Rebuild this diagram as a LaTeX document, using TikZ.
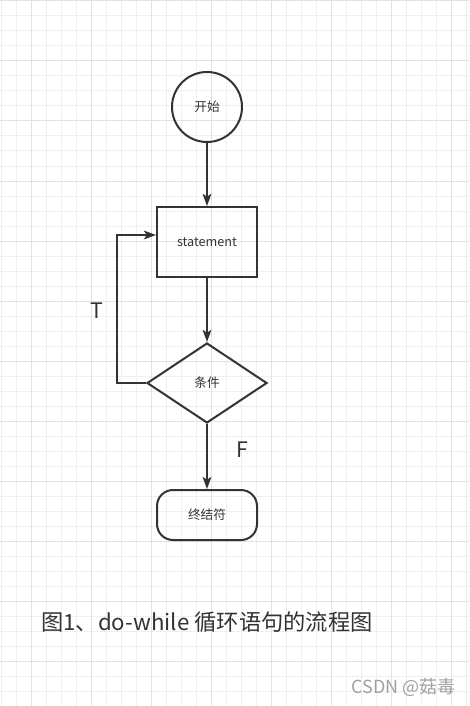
\documentclass[tikz,border=0pt]{standalone}
\usepackage{fontspec}
\setmainfont{Noto Sans CJK SC}
\usetikzlibrary{arrows.meta,shapes.geometric}
\definecolor{ln}{HTML}{333333}
\definecolor{gmin}{HTML}{EFEFEF}
\definecolor{gmaj}{HTML}{E2E2E2}
\definecolor{wm}{HTML}{A0A0A0}
\tikzset{
  shp/.style={draw=ln, line width=1.5pt, text=ln, font=\fontsize{9.5}{11}\selectfont, inner sep=0pt},
  conn/.style={draw=ln, line width=1.5pt, -{Stealth[length=9pt,width=6.5pt,inset=2pt]}},
  lbl/.style={text=ln, font=\fontsize{16}{18}\selectfont, inner sep=0pt},
}
\begin{document}
\begin{tikzpicture}[x=0.75pt,y=-0.75pt]
\fill[white] (0,0) rectangle (469,706);
\useasboundingbox (0,0) rectangle (469,706);
% grid
\foreach \i in {0,...,31} {\draw[gmin,line width=0.75pt] ({1+15*\i},0) -- ({1+15*\i},706);}
\foreach \i in {0,...,46} {\draw[gmin,line width=0.75pt] (0,{1+15*\i}) -- (469,{1+15*\i});}
\foreach \i in {0,...,7} {\draw[gmaj,line width=0.75pt] ({31+60*\i},0) -- ({31+60*\i},706);}
\foreach \i in {0,...,11} {\draw[gmaj,line width=0.75pt] (0,{1+60*\i}) -- (469,{1+60*\i});}
% nodes
\node[shp, circle, minimum size=70*0.75pt] (start) at (207,107) {开始};
\node[shp, rectangle, minimum width=100*0.75pt, minimum height=70*0.75pt] (stmt) at (207,242) {statement};
\node[shp, diamond, minimum width=120*0.75pt, minimum height=80*0.75pt] (cond) at (207,383) {条件};
\node[shp, rectangle, rounded corners=16*0.75pt, minimum width=100*0.75pt, minimum height=50*0.75pt] (stop) at (207,515) {终结符};
% connectors
\draw[conn] (start) -- (stmt);
\draw[conn] (stmt) -- (cond);
\draw[conn] (cond) -- (stop);
\coordinate (fb1) at (117,383);
\coordinate (fb2) at (117,235);
\draw[conn] (cond.west) -- (fb1) -- (fb2) -- (stmt.west |- fb2);
% labels
\node[lbl] (T) at (97,311) {T};
\node[lbl] (F) at (242,450) {F};
\node[lbl, font=\fontsize{16.7}{19}\selectfont, anchor=west] (cap) at (41,622) {图1、do-while 循环语句的流程图};
\node[text=wm, font=\fontsize{13.5}{16}\selectfont, inner sep=0pt, anchor=east] (wmk) at (456,687) {CSDN @菇毒};
\end{tikzpicture}
\end{document}
